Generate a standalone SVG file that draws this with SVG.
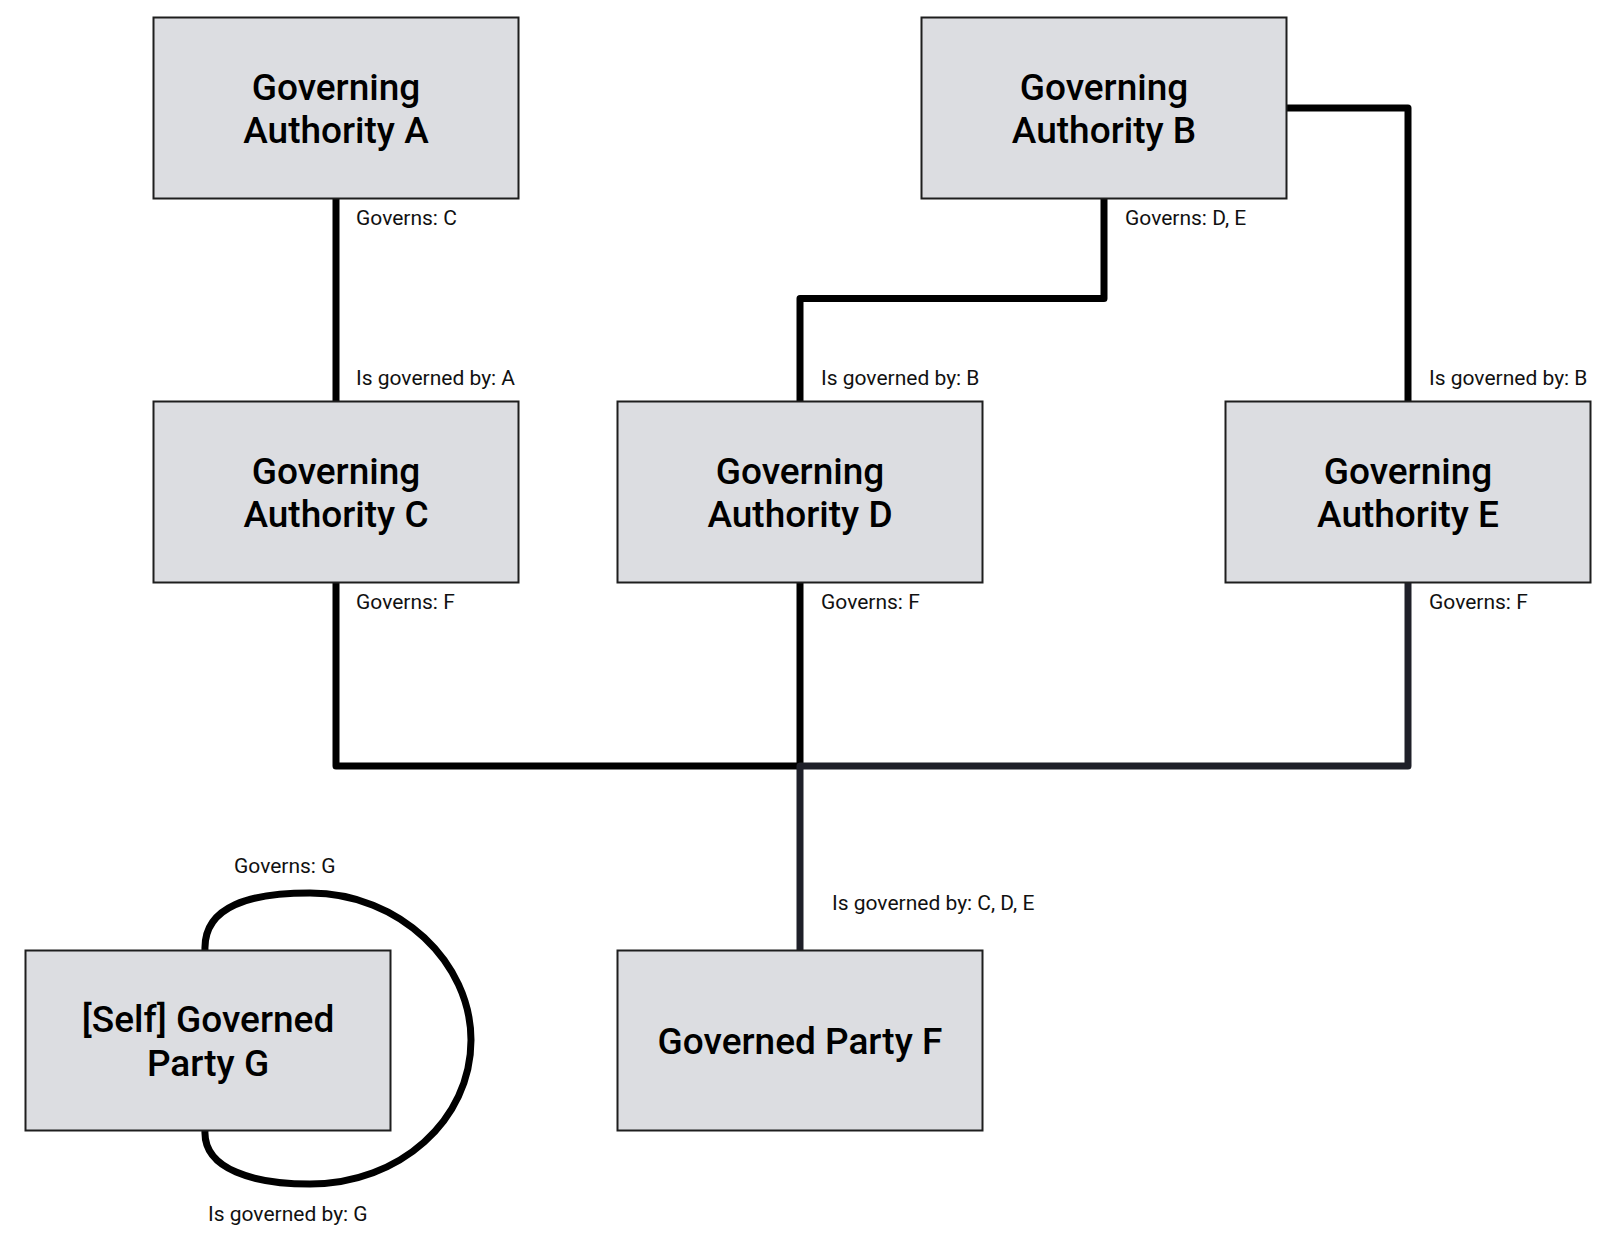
<svg xmlns="http://www.w3.org/2000/svg" width="1597" height="1235" viewBox="0 0 1597 1235">
  <style>
    .box { fill: #dcdde1; stroke: #1e1e1e; stroke-width: 2; }
    .title { font-family: Roboto, "Liberation Sans", sans-serif; font-weight: 500; font-size: 37px; fill: #000; text-anchor: middle; }
    .lbl { font-family: Roboto, "Liberation Sans", sans-serif; font-size: 21px; fill: #111; }
    .wire { fill: none; stroke: #000; stroke-width: 7; stroke-linejoin: round; }
    .wire.navy { stroke: #1f2029; }
  </style>
  <rect width="1597" height="1235" fill="#fff"/>

  <!-- connectors -->
  <g id="connectors">
    <path class="wire" d="M336,198.5 V401.5"/>
    <path class="wire" d="M1104,198.5 V298.5 H800 V401.5"/>
    <path class="wire" d="M1286.5,108 H1408 V401.5"/>
    <path class="wire" d="M336,582.5 V766 H800"/>
    <path class="wire" d="M800,582.5 V766"/>
    <path class="wire navy" d="M1408,582.5 V766 H800 V950.5"/>
    <path class="wire" d="M205,950.5 C203,905 252,893 310,893 C400,893 471,963 471,1040 C471,1120 400,1184 310,1184 C255,1184 203,1170 205,1130.5"/>

    <text class="lbl" x="356" y="225">Governs: C</text>
    <text class="lbl" x="356" y="385">Is governed by: A</text>
    <text class="lbl" x="1125" y="225">Governs: D, E</text>
    <text class="lbl" x="821" y="385">Is governed by: B</text>
    <text class="lbl" x="1429" y="385">Is governed by: B</text>
    <text class="lbl" x="356" y="609">Governs: F</text>
    <text class="lbl" x="821" y="609">Governs: F</text>
    <text class="lbl" x="1429" y="609">Governs: F</text>
    <text class="lbl" x="832" y="910">Is governed by: C, D, E</text>
    <text class="lbl" x="234" y="873">Governs: G</text>
    <text class="lbl" x="208" y="1221">Is governed by: G</text>
  </g>

  <!-- nodes -->
  <g id="node-a">
    <rect class="box" x="153.5" y="17.5" width="365" height="181"/>
    <text class="title" x="336" y="99.5">Governing</text>
    <text class="title" x="336" y="143">Authority A</text>
  </g>
  <g id="node-b">
    <rect class="box" x="921.5" y="17.5" width="365" height="181"/>
    <text class="title" x="1104" y="99.5">Governing</text>
    <text class="title" x="1104" y="143">Authority B</text>
  </g>
  <g id="node-c">
    <rect class="box" x="153.5" y="401.5" width="365" height="181"/>
    <text class="title" x="336" y="483.5">Governing</text>
    <text class="title" x="336" y="527">Authority C</text>
  </g>
  <g id="node-d">
    <rect class="box" x="617.5" y="401.5" width="365" height="181"/>
    <text class="title" x="800" y="483.5">Governing</text>
    <text class="title" x="800" y="527">Authority D</text>
  </g>
  <g id="node-e">
    <rect class="box" x="1225.5" y="401.5" width="365" height="181"/>
    <text class="title" x="1408" y="483.5">Governing</text>
    <text class="title" x="1408" y="527">Authority E</text>
  </g>
  <g id="node-g">
    <rect class="box" x="25.5" y="950.5" width="365" height="180"/>
    <text class="title" x="208" y="1032">[Self] Governed</text>
    <text class="title" x="208" y="1075.5">Party G</text>
  </g>
  <g id="node-f">
    <rect class="box" x="617.5" y="950.5" width="365" height="180"/>
    <text class="title" x="800" y="1054">Governed Party F</text>
  </g>
</svg>
